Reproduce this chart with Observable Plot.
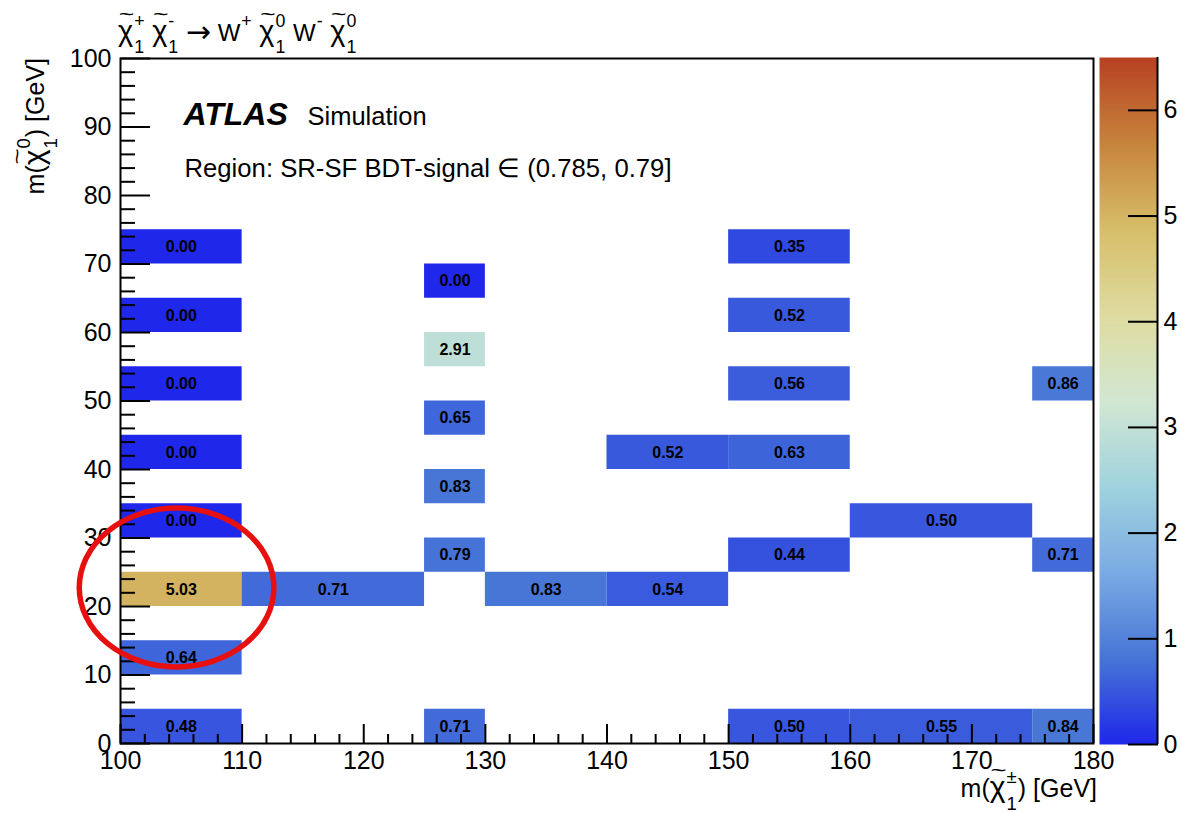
<!DOCTYPE html>
<html>
<head>
<meta charset="utf-8">
<script src="https://cdn.jsdelivr.net/npm/d3@7"></script>
<script src="https://cdn.jsdelivr.net/npm/@observablehq/plot@0.6"></script>
<style>
  body { margin: 0; background: #fff; }
  #chart { position: relative; width: 1181px; height: 813px; }
  #chart svg { position: absolute; top: 0; }
  text.pre { white-space: pre; }
</style>
</head>
<body>
<div id="chart"></div>
<script>
// Mass-grid bins (GeV) filled in this BDT-signal slice and the value in each bin
const charginoLow   = [100, 100, 100, 100, 100, 100, 100, 100, 110, 125, 125, 125, 125, 125, 125, 130, 140, 140, 150, 150, 150, 150, 150, 150, 160, 160, 175, 175, 175];
const charginoHigh  = [110, 110, 110, 110, 110, 110, 110, 110, 125, 130, 130, 130, 130, 130, 130, 140, 150, 150, 160, 160, 160, 160, 160, 160, 175, 175, 180, 180, 180];
const neutralinoLow = [  0,  10,  20,  30,  40,  50,  60,  70,  20,   0,  25,  35,  45,  55,  65,  20,  20,  40,   0,  25,  40,  50,  60,  70,   0,  30,   0,  25,  50];
const neutralinoHigh= [  5,  15,  25,  35,  45,  55,  65,  75,  25,   5,  30,  40,  50,  60,  70,  25,  25,  45,   5,  30,  45,  55,  65,  75,   5,  35,   5,  30,  55];
const binValues     = [0.48, 0.64, 5.03, 0.00, 0.00, 0.00, 0.00, 0.00, 0.71, 0.71, 0.79, 0.83, 0.65, 2.91, 0.00, 0.83, 0.54, 0.52, 0.50, 0.44, 0.63, 0.56, 0.52, 0.35, 0.55, 0.50, 0.84, 0.71, 0.86];

// Axis ranges and labelled ticks
const xDomain = [100, 180];
const yDomain = [0, 100];
const xMajorTicks = [100, 110, 120, 130, 140, 150, 160, 170, 180];
const yMajorTicks = [0, 10, 20, 30, 40, 50, 60, 70, 80, 90, 100];
const zMax = 6.5;
const zTicks = [0, 1, 2, 3, 4, 5, 6];

// Light-temperature palette (9 equidistant stops)
const paletteStops  = [0, 0.125, 0.25, 0.375, 0.5, 0.625, 0.75, 0.875, 1];
const paletteColors = ["rgb(31,40,234)", "rgb(71,117,214)", "rgb(123,171,228)", "rgb(160,211,222)",
                       "rgb(210,231,210)", "rgb(222,220,160)", "rgb(214,190,105)", "rgb(199,132,60)", "rgb(183,65,34)"];

// Highlighted region (centre and half-axes in GeV)
const highlight = { charginoMass: 104.65, neutralinoMass: 22.7, halfWidth: 8.0, halfHeight: 11.6 };

const FONT = '"Liberation Sans", Arial, Helvetica, sans-serif';
const cells = binValues.map((v, i) => ({
  x1: charginoLow[i], x2: charginoHigh[i], y1: neutralinoLow[i], y2: neutralinoHigh[i], value: v
}));
const minorX = d3.range(xDomain[0], xDomain[1] + 1, 2).filter(v => !xMajorTicks.includes(v));
const minorY = d3.range(yDomain[0], yDomain[1] + 1, 2).filter(v => !yMajorTicks.includes(v));
const colorScale = {
  type: "linear",
  domain: paletteStops.map(s => s * zMax),
  range: paletteColors,
  interpolate: "rgb"
};
const axisStyle = { stroke: "black", strokeWidth: 2, fill: "black", fontSize: 25, label: null, tickFormat: d => `${d}` };

const main = Plot.plot({
  width: 1181, height: 813,
  marginLeft: 120, marginRight: 88, marginTop: 58, marginBottom: 70,
  style: { fontFamily: FONT, fontSize: "25px", color: "black", background: "white" },
  x: { domain: xDomain },
  y: { domain: yDomain },
  color: colorScale,
  marks: [
    Plot.rect(cells, { x1: "x1", x2: "x2", y1: "y1", y2: "y2", fill: "value" }),
    Plot.text(cells, {
      x: d => (d.x1 + d.x2) / 2, y: d => (d.y1 + d.y2) / 2,
      text: d => d3.format(".2f")(d.value),
      fontWeight: "bold", fontSize: 16, fill: "black"
    }),
    Plot.frame({ stroke: "black", strokeWidth: 2 }),
    Plot.axisX({ ...axisStyle, ticks: xMajorTicks, tickSize: -19, tickPadding: 27 }),
    Plot.axisX({ ...axisStyle, ticks: minorX, tickSize: -9, fill: "none" }),
    Plot.axisY({ ...axisStyle, ticks: yMajorTicks, tickSize: -30, tickPadding: 39 }),
    Plot.axisY({ ...axisStyle, ticks: minorY, tickSize: -15, fill: "none" }),
    Plot.text(["ATLAS"], { text: d => d, frameAnchor: "top-left", dx: 63, dy: 44, lineAnchor: "top",
      textAnchor: "start", fontWeight: "bold", fontStyle: "italic", fontSize: 32, fill: "black" }),
    Plot.text(["Simulation"], { text: d => d, frameAnchor: "top-left", dx: 187, dy: 48, lineAnchor: "top",
      textAnchor: "start", fontSize: 25.5, fill: "black" }),
    Plot.text(["Region: SR-SF BDT-signal \u2208 (0.785, 0.79]"], { text: d => d, frameAnchor: "top-left", dx: 64, dy: 100,
      lineAnchor: "top", textAnchor: "start", fontSize: 25.7, fill: "black" })
  ]
});

// Colour bar drawn as its own small plot sharing the same colour scale
const bar = Plot.plot({
  width: 82, height: 813,
  marginLeft: 0, marginRight: 24, marginTop: 57, marginBottom: 69,
  style: { fontFamily: FONT, fontSize: "25px", color: "black", background: "transparent" },
  x: { domain: [0, 1], axis: null },
  y: { domain: [0, zMax] },
  color: colorScale,
  marks: [
    Plot.raster({ x1: 0, x2: 1, y1: 0, y2: zMax, width: 1, height: 300, fill: (x, y) => y, imageRendering: "auto" }),
    Plot.ruleX([1], { stroke: "black", strokeWidth: 2 }),
    Plot.axisY({ ...axisStyle, anchor: "right", ticks: zTicks, tickSize: -30, tickPadding: 36 })
  ]
});

const chart = document.getElementById("chart");
main.style.left = "0px";
bar.style.left = "1099px";
chart.appendChild(main);
chart.appendChild(bar);

// Text with stacked super/subscripts and optional tilde accents
function richText(svg, parts, size, { x, y, anchor = "start", rotate = 0 }) {
  const g = d3.select(svg).append("g")
    .attr("font-family", FONT).attr("fill", "black").attr("text-anchor", "start");
  const inner = g.append("g").attr("font-size", size);
  let cx = 0;
  for (const p of parts) {
    const fs = size * (p.scale || 1);
    const t = inner.append("text").attr("class", "pre").attr("x", cx).attr("y", p.dy || 0)
      .attr("font-size", fs).text(p.s);
    if (p.font) t.attr("font-family", p.font);
    const w = t.node().getComputedTextLength();
    if (p.tilde) {
      inner.append("text")
        .attr("transform", `translate(${cx + w / 2 + 1},${-0.82 * size}) scale(1.35,1)`)
        .attr("text-anchor", "middle").attr("font-size", size * 0.82).text("~");
    }
    cx += w;
    let sw = 0;
    if (p.sup) {
      const s = inner.append("text").attr("x", cx + 1).attr("y", -0.58 * size)
        .attr("font-size", size * 0.74).text(p.sup);
      sw = Math.max(sw, s.node().getComputedTextLength() + 2);
    }
    if (p.sub) {
      const s = inner.append("text").attr("x", cx + 1).attr("y", 0.5 * size)
        .attr("font-size", size * 0.74).text(p.sub);
      sw = Math.max(sw, s.node().getComputedTextLength() + 2);
    }
    cx += sw + (p.gap || 0);
  }
  const shift = anchor === "end" ? -cx : 0;
  g.attr("transform", `translate(${x},${y}) rotate(${rotate})`);
  inner.attr("transform", `translate(${shift},0)`);
}

const chi = (sup, sub) => ({ s: "\u03c7", tilde: true, scale: 1.2, sup, sub });
richText(main, [
  chi("+", "1"), { s: " " }, chi("-", "1"), { s: " " },
  { s: "\u2192", font: '"DejaVu Sans", sans-serif', scale: 1.25, dy: 1 }, { s: " W", sup: "+" }, { s: " " },
  chi("0", "1"), { s: " W", sup: "-" }, { s: " " }, chi("0", "1")
], 24, { x: 118, y: 41 });
richText(main, [{ s: "m(" }, chi("0", "1"), { s: ") [GeV]" }], 25, { x: 44, y: 58, anchor: "end", rotate: -90 });
richText(main, [{ s: "m(" }, chi("\u00b1", "1"), { s: ") [GeV]" }], 25, { x: 1097, y: 797, anchor: "end" });

// Highlight ellipse placed through the plot's position scales
const sx = main.scale("x"), sy = main.scale("y");
d3.select(main).append("ellipse")
  .attr("cx", sx.apply(highlight.charginoMass))
  .attr("cy", sy.apply(highlight.neutralinoMass))
  .attr("rx", sx.apply(highlight.charginoMass + highlight.halfWidth) - sx.apply(highlight.charginoMass))
  .attr("ry", sy.apply(highlight.neutralinoMass) - sy.apply(highlight.neutralinoMass + highlight.halfHeight))
  .attr("fill", "none").attr("stroke", "#e8100f").attr("stroke-width", 5.5);
</script>
</body>
</html>
